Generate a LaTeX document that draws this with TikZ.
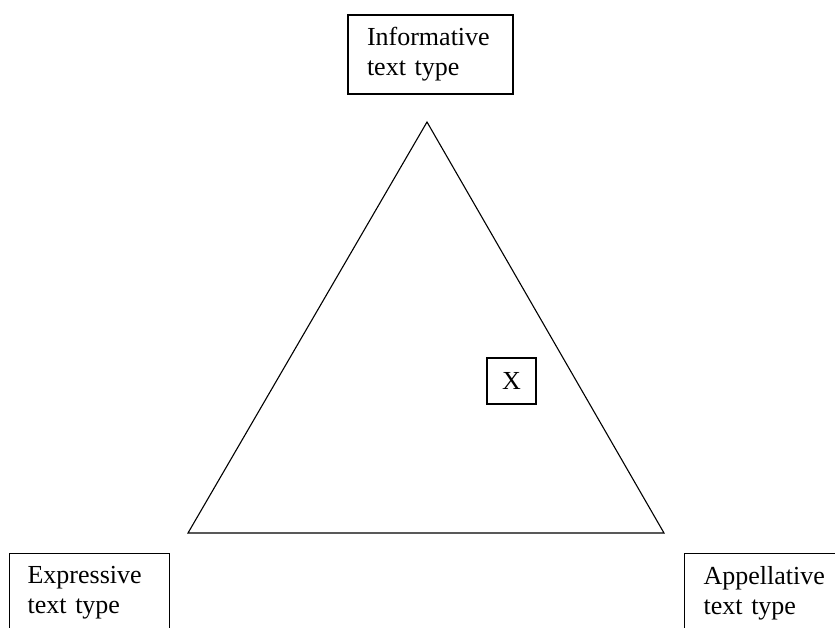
\documentclass[tikz,border=0pt]{standalone}
\usepackage{fontspec}
\setmainfont{Liberation Serif}
\usetikzlibrary{positioning}

\begin{document}
\begin{tikzpicture}[x=0.5pt, y=-0.5pt,
    typebox/.style={draw, line width=0.6pt, minimum width=82.5pt, minimum height=39.5pt,
        text width=63.5pt, inner xsep=9.5pt, align=left, font=\fontsize{13}{15}\selectfont},
    markbox/.style={draw, line width=0.6pt, minimum width=24.5pt, minimum height=23pt,
        inner sep=0pt, font=\fontsize{13}{15}\selectfont}]
    \useasboundingbox (0,0) rectangle (835,627);
    \clip (0,0) rectangle (835,627);

    \node [typebox] (info) at (430.5,54.5) {Informative\\text type};
    \node [typebox, anchor=north west, minimum width=80pt, text width=62pt, inner xsep=9pt] (expr) at (9,553) {Expressive\\text type};
    \node [typebox, anchor=north west, inner xsep=9pt] (appe) at (684,553) {Appellative\\text type};

    \coordinate (top) at (427,122);
    \coordinate (left) at (188,533);
    \coordinate (right) at (664,533);

    \draw [line width=0.55pt] (top) -- (right) -- (left) -- cycle;

    \node [markbox] (x) at (511.5,381) {X};
\end{tikzpicture}
\end{document}
